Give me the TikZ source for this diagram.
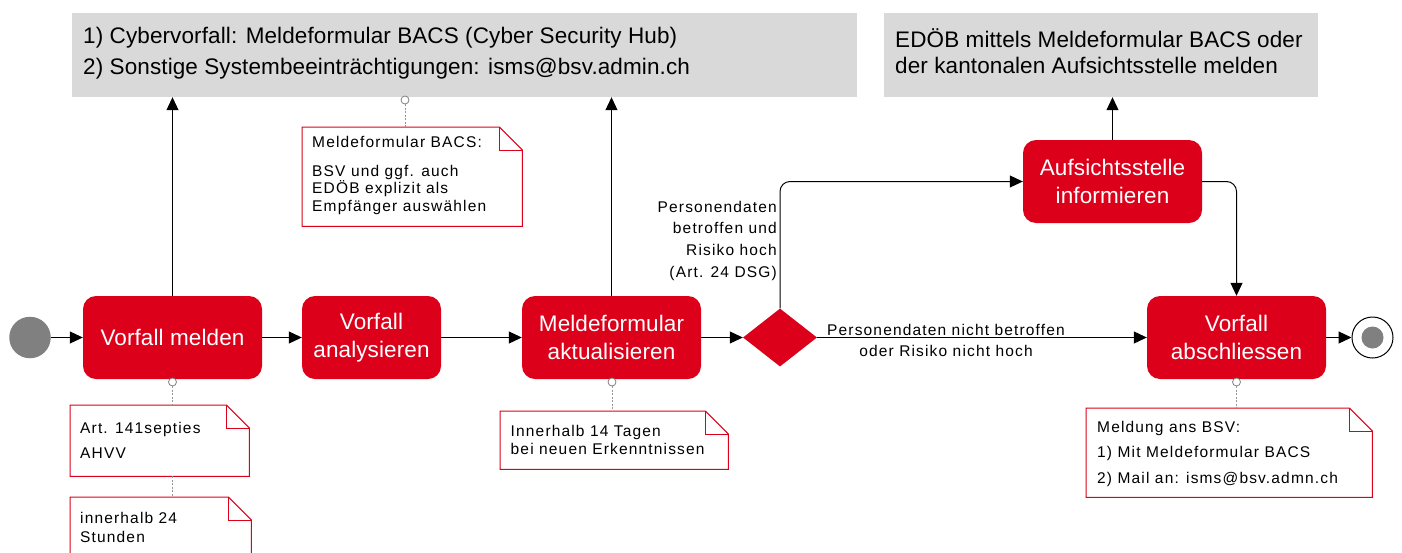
\documentclass[tikz,border=0pt]{standalone}
\usepackage{fontspec}
\setmainfont{Liberation Sans}
\newfontfamily\notefont{Liberation Sans}[LetterSpace=7.5]
\newfontfamily\bigfont{Liberation Sans}[LetterSpace=0.5]
\usetikzlibrary{arrows.meta,shapes.geometric,calc}
\definecolor{bred}{RGB}{220,0,26}
\definecolor{bgray}{RGB}{217,217,217}
\definecolor{dgray}{RGB}{128,128,128}
\definecolor{lgray}{RGB}{150,150,150}
\newcommand\mydogear[1]{%
  \draw[noteline] (#1.south west) -- (#1.north west) -- ([xshift=-23pt]#1.north east) -- ([yshift=-23pt]#1.north east) -- (#1.south east) -- cycle;
  \draw[noteline] ([xshift=-23pt]#1.north east) |- ([yshift=-23pt]#1.north east);}
\begin{document}
\begin{tikzpicture}[x=1pt,y=-1pt,
  task/.style={rectangle, rounded corners=13pt, fill=bred, text=white, minimum width=179pt, minimum height=83pt, align=center, font=\bigfont\fontsize{22.5}{28.5}\selectfont, inner sep=2pt},
  graybox/.style={rectangle, fill=bgray, inner sep=0pt},
  gtext/.style={font=\bigfont\fontsize{22.5}{31}\selectfont, align=left, inner sep=0pt, anchor=north west},
  ntext/.style={font=\notefont\fontsize{15.5}{17.5}\selectfont, align=left, inner sep=0pt, anchor=north west},
  notebox/.style={rectangle, inner sep=0pt, anchor=north west, fill=white},
  noteline/.style={draw=bred, line width=1pt},
  flow/.style={draw=black, line width=1pt, -{Triangle[length=13pt,width=12pt]}},
  dotline/.style={draw=lgray, line width=0.8pt, dash pattern=on 2pt off 1.5pt},
  anchorcirc/.style={circle, draw=dgray, fill=white, inner sep=0pt, minimum size=8pt, line width=0.8pt}]
\useasboundingbox (0,0) rectangle (1402,552);

% gray boxes
\node[graybox, minimum width=785pt, minimum height=84pt] (g1) at (464.5,55) {};
\node[graybox, minimum width=434pt, minimum height=84pt] (g2) at (1101,55) {};
\node[gtext] (t1) at (83,20.5) {\rule{0pt}{1em}1) Cybervorfall: Meldeformular BACS (Cyber Security Hub)\\2) Sonstige Systembeeinträchtigungen: isms@bsv.admin.ch};
\node[gtext, font=\bigfont\fontsize{22.5}{26}\selectfont] (t2) at (895,24.5) {\rule{0pt}{1em}EDÖB mittels Meldeformular BACS oder\\der kantonalen Aufsichtsstelle melden};

% flow nodes
\node[circle, fill=dgray, minimum size=41.5pt, inner sep=0pt] (start) at (30,337.5) {};
\node[task] (m1) at (172.5,337.5) {Vorfall melden};
\node[task, minimum width=139pt] (m2) at (371.5,337.5) {Vorfall\\analysieren};
\node[task] (m3) at (611.5,337.5) {Meldeformular\\aktualisieren};
\node[diamond, fill=bred, minimum width=74pt, minimum height=58pt, inner sep=0pt] (d) at (780,337.5) {};
\node[task] (auf) at (1112.5,181.5) {Aufsichtsstelle\\informieren};
\node[task] (m4) at (1236.5,337.5) {Vorfall\\abschliessen};
\node[circle, draw=black, line width=1pt, fill=white, minimum size=41pt, inner sep=0pt] (end) at (1372.5,337.5) {};
\node[circle, fill=dgray, minimum size=22pt, inner sep=0pt] (endin) at (end.center) {};

% anchor circles
\node[anchorcirc] (c1) at (172.5,382) {};
\node[anchorcirc] (c3) at (405,100) {};
\node[anchorcirc] (c4) at (612,382) {};
\node[anchorcirc] (c5) at (1236.5,382) {};

% connectors
\draw[flow] (start.east) -- (m1.west);
\draw[flow] (m1.east) -- (m2.west);
\draw[flow] (m2.east) -- (m3.west);
\draw[flow] (m3.east) -- (d.west);
\draw[flow] (d.east) -- (m4.west);
\draw[flow] (m4.east) -- (end.west);
\draw[flow, rounded corners=10pt] (d.north) |- (auf.west);
\draw[flow, rounded corners=10pt] (auf.east) -| (m4.north);
\draw[flow] (m1.north) -- (m1.north |- g1.south);
\draw[flow] (m3.north) -- (m3.north |- g1.south);
\draw[flow] (auf.north) -- (auf.north |- g2.south);

% labels
\node[ntext, anchor=north east, align=right, font=\notefont\fontsize{15.5}{21.7}\selectfont] (lp) at (777,196.5) {\rule{0pt}{1em}Personendaten\\betroffen und\\Risiko hoch\\(Art. 24 DSG)};
\node[ntext, anchor=north, align=center, font=\notefont\fontsize{15.5}{21}\selectfont] (lb) at (946,319.5) {\rule{0pt}{1em}Personendaten nicht betroffen\\oder Risiko nicht hoch};

% notes
\node[notebox, minimum width=179pt, minimum height=71pt] (n1) at (70,405) {};
\node[notebox, minimum width=181pt, minimum height=80pt] (n2) at (70,497) {};
\node[notebox, minimum width=220pt, minimum height=99pt] (n3) at (302,127) {};
\node[notebox, minimum width=228pt, minimum height=58pt] (n4) at (500,411) {};
\node[notebox, minimum width=286pt, minimum height=89pt] (n5) at (1086,408) {};
\mydogear{n1}
\mydogear{n2}
\mydogear{n3}
\mydogear{n4}
\mydogear{n5}

\draw[dotline] (c1.south) -- (c1 |- n1.north);
\draw[dotline] (c1 |- n1.south) -- (c1 |- n2.north);
\draw[dotline] (c3.south) -- (c3 |- n3.north);
\draw[dotline] (c4.south) -- (c4 |- n4.north);
\draw[dotline] (c5.south) -- (c5 |- n5.north);

\node[ntext] (tn1) at (80,417.5) {\rule{0pt}{1em}Art. 141septies\\[7.5pt]AHVV};
\node[ntext] (tn2) at (80,507.5) {\rule{0pt}{1em}innerhalb 24\\[1.5pt]Stunden};
\node[ntext] (tn3) at (312,131.5) {\rule{0pt}{1em}Meldeformular BACS:\\[11.5pt]BSV und ggf. auch\\EDÖB explizit als\\Empfänger auswählen};
\node[ntext, font=\notefont\fontsize{15.5}{18}\selectfont] (tn4) at (510.5,420.5) {\rule{0pt}{1em}Innerhalb 14 Tagen\\bei neuen Erkenntnissen};
\node[ntext] (tn5) at (1097,416.5) {\rule{0pt}{1em}Meldung ans BSV:\\[8pt]1) Mit Meldeformular BACS\\[8pt]2) Mail an: isms@bsv.admn.ch};
\end{tikzpicture}
\end{document}
